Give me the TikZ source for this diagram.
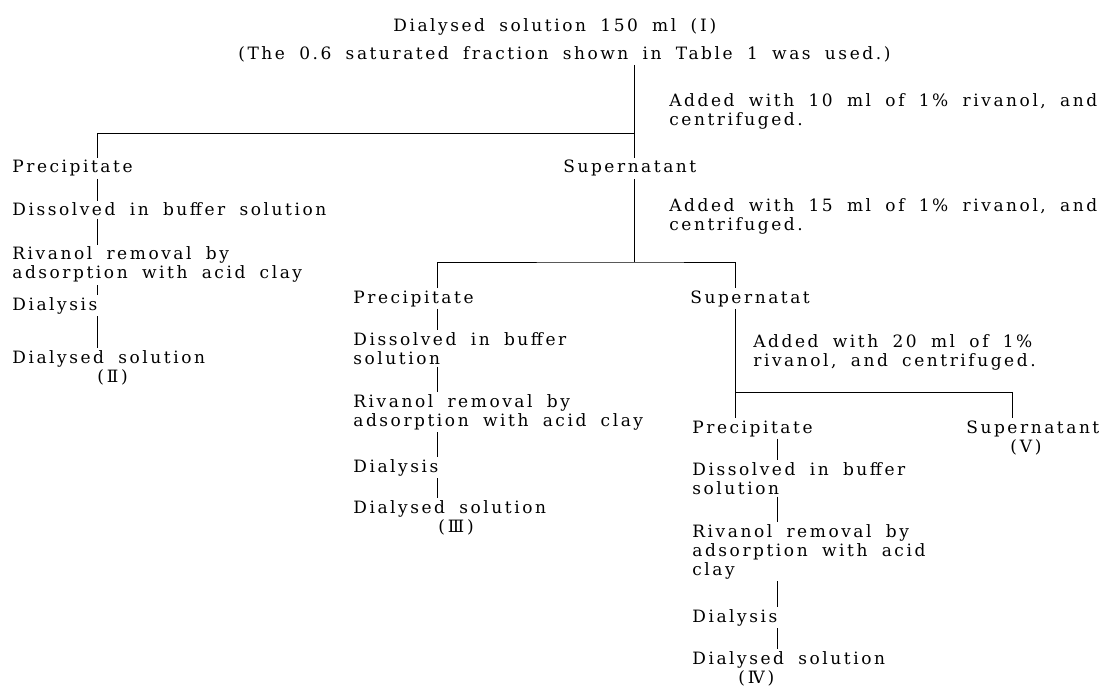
\documentclass[tikz,border=0pt]{standalone}
\usepackage{fontspec}
\newfontfamily\labfont{DejaVu Serif}[LetterSpace=15,WordSpace=1.8]
\newcommand\lab{\labfont\fontsize{17}{19}\selectfont}
\newcommand\rn[1]{{\addfontfeature{LetterSpace=0}#1}}
\begin{document}
\begin{tikzpicture}[x=1pt,y=-1pt,line width=0.7pt,
	txt/.style={anchor=base west,align=left,inner xsep=0pt,inner ysep=2pt,font=\lab}]
	\useasboundingbox (0,0) rectangle (1101,687);

	\node[txt] (h1) at (393,32) {Dialysed solution 150 ml (\,\rn{Ⅰ}\,)};
	\node[txt] (h2) at (238,60) {(The 0.6 saturated fraction shown in Table 1 was used.)};
	\node[txt] (add1) at (669,126) {Added with 10 ml of 1\% rivanol, and\\centrifuged.};

	\node[txt] (pre1) at (12,173) {Precipitate};
	\node[txt] (sup1) at (563,173) {Supernatant};
	\node[txt] (dis1) at (12,216) {Dissolved in buffer solution};
	\node[txt] (riv1) at (12,279) {Rivanol removal by\\adsorption with acid clay};
	\node[txt] (dia1) at (12,310) {Dialysis};
	\node[txt] (sol1) at (12,382) {Dialysed solution\\\hspace*{85pt}(\,\rn{Ⅱ}\,)};

	\node[txt] (add2) at (669,231) {Added with 15 ml of 1\% rivanol, and\\centrifuged.};
	\node[txt] (pre2) at (353,303) {Precipitate};
	\node[txt] (sup2) at (690,303) {Supernatat};
	\node[txt] (dis2) at (353,364) {Dissolved in buffer\\solution};
	\node[txt] (riv2) at (353,426) {Rivanol removal by\\adsorption with acid clay};
	\node[txt] (dia2) at (353,472) {Dialysis};
	\node[txt] (sol2) at (353,532) {Dialysed solution\\\hspace*{85pt}(\,\rn{Ⅲ}\,)};

	\node[txt] (add3) at (753,366) {Added with 20 ml of 1\%\\rivanol, and centrifuged.};
	\node[txt] (pre3) at (692,433) {Precipitate};
	\node[txt] (sup3) at (966,452) {Supernatant\\\hspace*{44pt}(\,\rn{Ⅴ}\,)};
	\node[txt] (dis3) at (692,494) {Dissolved in buffer\\solution};
	\node[txt] (riv3) at (692,575) {Rivanol removal by\\adsorption with acid\\clay};
	\node[txt] (dia3) at (692,622) {Dialysis};
	\node[txt] (sol3) at (692,683) {Dialysed solution\\\hspace*{46pt}(\,\rn{Ⅳ}\,)};

	\coordinate (cA) at (97,0);
	\coordinate (cM) at (634,0);
	\coordinate (cB) at (437,0);
	\coordinate (cS) at (735,0);
	\coordinate (cR) at (1012,0);
	\coordinate (cC) at (777,0);
	\coordinate (j1) at (634,133);
	\coordinate (j2) at (634,262);
	\coordinate (j3) at (735,392);

	\draw (h2.south -| cM) -- (sup1.north -| cM);
	\draw (j1) -| (pre1.north -| cA);
	\draw (sup1.south -| cM) -- (j2);
	\draw (pre2.north -| cB) |- (j2) -| (sup2.north -| cS);
	\draw (sup2.south -| cS) -- (pre3.north -| cS);
	\draw (j3) -| (sup3.north -| cR);

	\draw (pre1.south -| cA) -- (dis1.north -| cA)
		(dis1.south -| cA) -- (riv1.north -| cA)
		(riv1.south -| cA) -- (dia1.north -| cA)
		(dia1.south -| cA) -- (sol1.north -| cA);
	\draw (pre2.south -| cB) -- (dis2.north -| cB)
		(dis2.south -| cB) -- (riv2.north -| cB)
		(riv2.south -| cB) -- (dia2.north -| cB)
		(dia2.south -| cB) -- (sol2.north -| cB);
	\draw (pre3.south -| cC) -- (dis3.north -| cC)
		(dis3.south -| cC) -- (riv3.north -| cC)
		(riv3.south -| cC) -- (dia3.north -| cC)
		(dia3.south -| cC) -- (sol3.north -| cC);
\end{tikzpicture}
\end{document}
